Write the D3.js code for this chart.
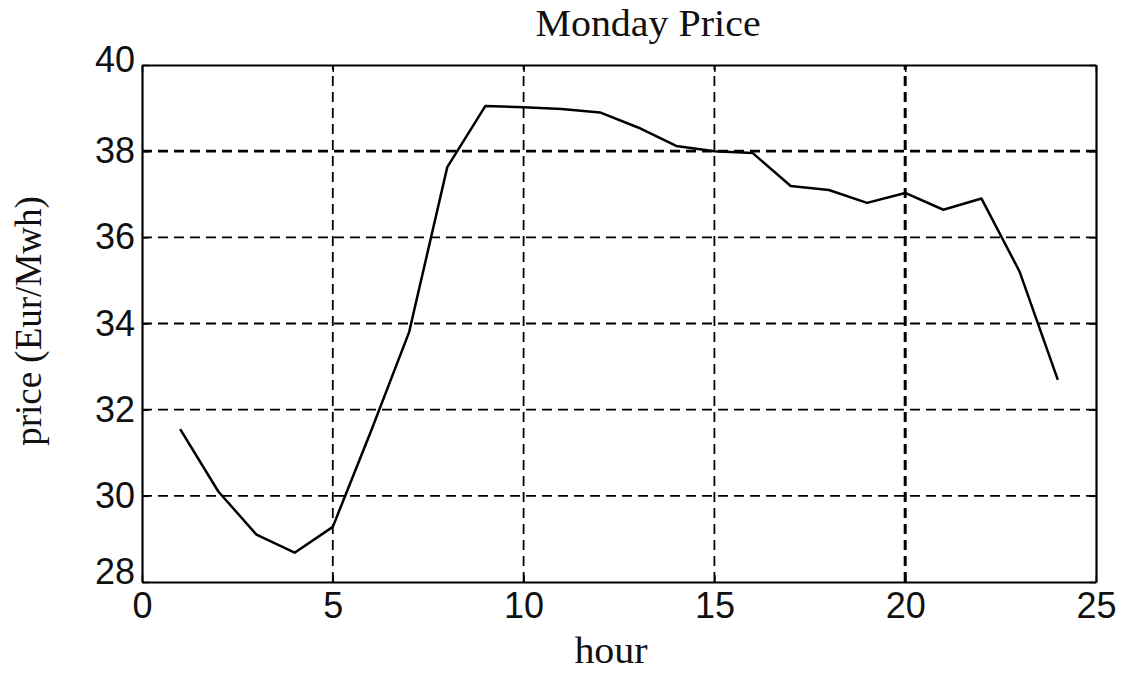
<!DOCTYPE html>
<html>
<head>
<meta charset="utf-8">
<script src="https://cdn.jsdelivr.net/npm/d3@7"></script>
<style>
  body { margin: 0; background: #fff; }
  .tick text { font-family: "Liberation Sans", Arial, sans-serif; }
</style>
</head>
<body>
<div id="chart"></div>
<script>
// Monday price per hour
const hours = [1, 2, 3, 4, 5, 6, 7, 8, 9, 10, 11, 12, 13, 14, 15, 16, 17, 18, 19, 20, 21, 22, 23, 24];
const prices = [31.55, 30.1, 29.1, 28.68, 29.28, 31.5, 33.8, 37.63, 39.05, 39.02, 38.98, 38.9,
                38.55, 38.12, 38.0, 37.96, 37.19, 37.1, 36.8, 37.03, 36.64, 36.9, 35.2, 32.69];
const xTicks = [0, 5, 10, 15, 20, 25];
const yTicks = [28, 30, 32, 34, 36, 38, 40];

const width = 1130, height = 673;
const margin = { top: 65, right: 34, bottom: 91, left: 142 };
const serif = "Liberation Serif, Times New Roman, serif";

const svg = d3.select("#chart")
  .append("svg")
  .attr("width", width)
  .attr("height", height);

const x = d3.scaleLinear().domain([0, 25]).range([margin.left, width - margin.right]);
const y = d3.scaleLinear().domain([28, 40]).range([height - margin.bottom, margin.top]);

// Dashed grid (x=20 and y=38 look heavier in the original)
svg.append("g")
  .selectAll("line")
  .data(xTicks.slice(1, -1))
  .enter()
  .append("line")
  .attr("x1", d => x(d)).attr("x2", d => x(d))
  .attr("y1", y(28)).attr("y2", y(40))
  .attr("stroke", "#000")
  .attr("stroke-width", d => d === 20 ? 3 : 1.8)
  .attr("stroke-dasharray", "10,6");

svg.append("g")
  .selectAll("line")
  .data(yTicks.slice(1, -1))
  .enter()
  .append("line")
  .attr("x1", x(0)).attr("x2", x(25))
  .attr("y1", d => y(d)).attr("y2", d => y(d))
  .attr("stroke", "#000")
  .attr("stroke-width", d => d === 38 ? 2.6 : 1.8)
  .attr("stroke-dasharray", "10,6");

// Axes with inward ticks
const xAxis = svg.append("g")
  .attr("transform", `translate(0,${y(28)})`)
  .call(d3.axisBottom(x).tickValues(xTicks).tickSizeInner(-7).tickSizeOuter(0).tickPadding(10));
const xAxisTop = svg.append("g")
  .attr("transform", `translate(0,${y(40)})`)
  .call(d3.axisTop(x).tickValues(xTicks).tickSizeInner(-7).tickSizeOuter(0).tickFormat(""));
const yAxis = svg.append("g")
  .attr("transform", `translate(${x(0)},0)`)
  .call(d3.axisLeft(y).tickValues(yTicks).tickSizeInner(-7).tickSizeOuter(0).tickPadding(7));
const yAxisRight = svg.append("g")
  .attr("transform", `translate(${x(25)},0)`)
  .call(d3.axisRight(y).tickValues(yTicks).tickSizeInner(-7).tickSizeOuter(0).tickFormat(""));

[xAxis, xAxisTop, yAxis, yAxisRight].forEach(g => {
  g.select(".domain").attr("stroke", "#000").attr("stroke-width", 2.2);
  g.selectAll(".tick line").attr("stroke", "#000").attr("stroke-width", 1.5);
  g.selectAll(".tick text")
    .attr("fill", "#111")
    .attr("font-size", "36px");
});
xAxis.selectAll(".tick text").attr("dy", "0.71em");
// end labels sit a little higher in the original
yAxis.selectAll(".tick text")
  .attr("dy", d => d === 28 ? "0.05em" : d === 40 ? "0.17em" : "0.32em");

// Price line
const line = d3.line()
  .x((d, i) => x(hours[i]))
  .y(d => y(d));

svg.append("path")
  .datum(prices)
  .attr("fill", "none")
  .attr("stroke", "#000")
  .attr("stroke-width", 2.5)
  .attr("stroke-linejoin", "round")
  .attr("d", line);

// Title and axis labels
svg.append("text")
  .attr("transform", "translate(648,36) scale(1.08,1)")
  .attr("text-anchor", "middle")
  .attr("font-family", serif)
  .attr("font-size", "37px")
  .attr("fill", "#111")
  .text("Monday Price");

svg.append("text")
  .attr("transform", `translate(${(x(0) + x(25)) / 2 - 8},663) scale(1.08,1)`)
  .attr("text-anchor", "middle")
  .attr("font-family", serif)
  .attr("font-size", "37px")
  .attr("fill", "#111")
  .text("hour");

svg.append("text")
  .attr("transform", `translate(41,321) rotate(-90)`)
  .attr("text-anchor", "middle")
  .attr("font-family", serif)
  .attr("font-size", "37px")
  .attr("fill", "#111")
  .text("price (Eur/Mwh)");
</script>
</body>
</html>
